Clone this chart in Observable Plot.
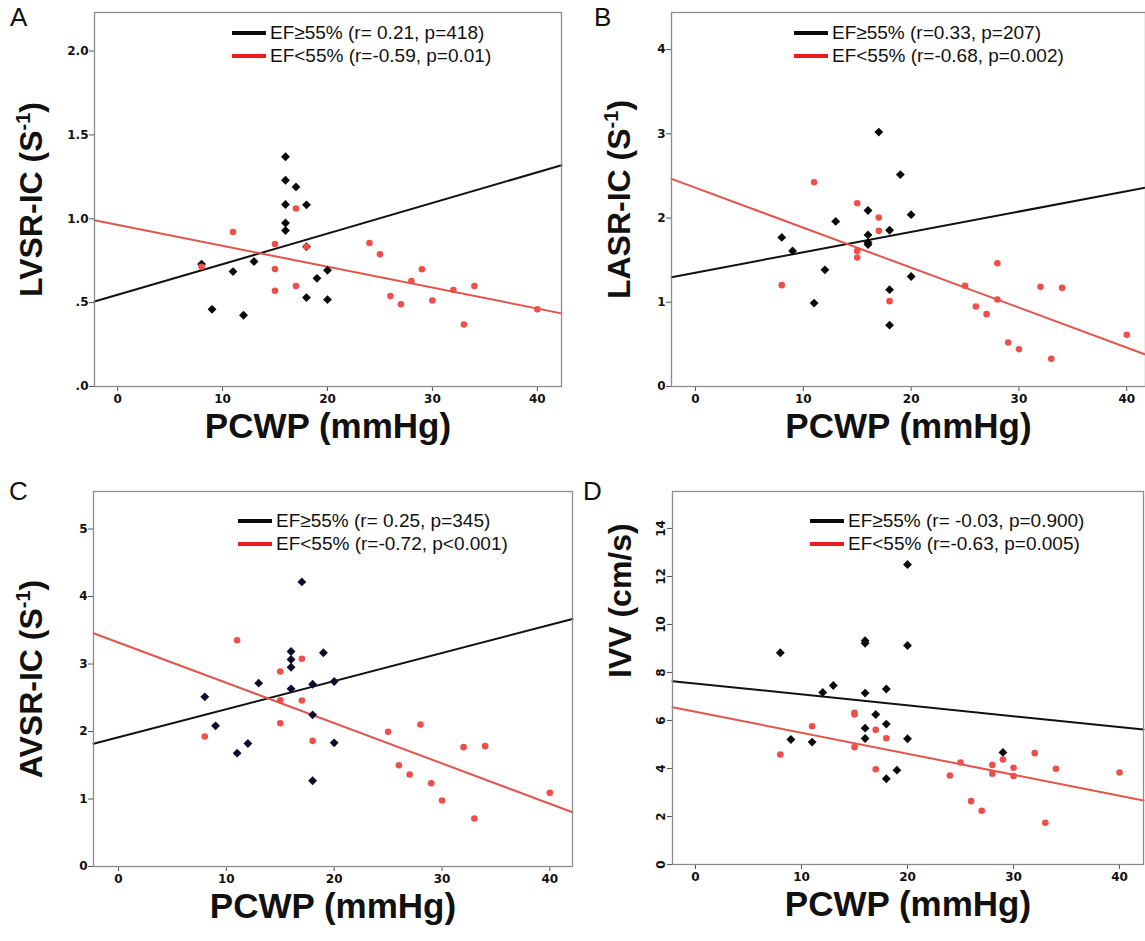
<!DOCTYPE html>
<html><head><meta charset="utf-8">
<script src="https://cdn.jsdelivr.net/npm/d3@7"></script>
<script src="https://cdn.jsdelivr.net/npm/@observablehq/plot@0.6"></script>
<style>
body{margin:0;background:#fff;}
#wrap{position:relative;width:1145px;height:941px;overflow:hidden;background:#fff;font-family:"Liberation Sans",Arial,sans-serif;}
.panel{position:absolute;}
.letter{position:absolute;font-size:26px;line-height:26px;color:#111;}
.leg{position:absolute;display:flex;align-items:center;font-size:19px;line-height:22px;color:#111;white-space:nowrap;}
.sw{width:34px;height:3.5px;margin-right:4px;}
</style></head><body><div id="wrap"></div>
<script>
// ---------- data ----------
const xTicks = [0, 10, 20, 30, 40];

// Panel A: LVSR-IC
const aBlackX = [8, 9, 11, 12, 13, 16, 16, 17, 16, 18, 16, 16, 18, 19, 20, 18, 20];
const aBlackY = [0.73, 0.46, 0.685, 0.425, 0.745, 1.37, 1.23, 1.19, 1.085, 1.083, 0.975, 0.93, 0.834, 0.645, 0.693, 0.53, 0.518];
const aRedX = [8, 11, 15, 17, 18, 15, 17, 15, 24, 25, 26, 27, 28, 29, 30, 32, 33, 34, 40];
const aRedY = [0.714, 0.921, 0.85, 1.061, 0.834, 0.70, 0.599, 0.571, 0.856, 0.788, 0.539, 0.49, 0.629, 0.699, 0.513, 0.575, 0.37, 0.599, 0.46];
const aFitBlack = [0.547, 0.01825];   // intercept, slope
const aFitRed = [0.9636, -0.01247];
const aYTicks = [0, 0.5, 1, 1.5, 2];
const aYLabels = [".0", ".5", "1.0", "1.5", "2.0"];

// Panel B: LASR-IC
const bBlackX = [8, 9, 11, 12, 13, 16, 16, 16, 16, 17, 18, 18, 18, 19, 20, 20];
const bBlackY = [1.77, 1.61, 0.99, 1.385, 1.96, 2.09, 1.80, 1.71, 1.685, 3.02, 1.855, 1.15, 0.728, 2.516, 2.04, 1.306];
const bRedX = [8, 11, 15, 15, 15, 17, 17, 18, 25, 26, 27, 28, 28, 29, 30, 32, 33, 34, 40];
const bRedY = [1.203, 2.425, 2.176, 1.61, 1.53, 2.006, 1.848, 1.013, 1.195, 0.95, 0.859, 1.464, 1.033, 0.522, 0.443, 1.183, 0.329, 1.171, 0.614];
const bFitBlack = [1.352, 0.02415];
const bFitRed = [2.359, -0.04742];
const bYTicks = [0, 1, 2, 3, 4];
const bYLabels = ["0", "1", "2", "3", "4"];

// Panel C: AVSR-IC
const cBlackX = [8, 9, 11, 12, 13, 16, 16, 16, 16, 17, 18, 18, 18, 19, 20, 20];
const cBlackY = [2.514, 2.084, 1.679, 1.822, 2.716, 3.185, 3.067, 2.953, 2.632, 4.217, 2.70, 2.247, 1.27, 3.166, 2.741, 1.832];
const cRedX = [8, 11, 15, 15, 15, 17, 17, 18, 25, 26, 27, 28, 29, 30, 32, 33, 34, 40];
const cRedY = [1.926, 3.353, 2.889, 2.464, 2.123, 3.077, 2.459, 1.862, 1.995, 1.501, 1.363, 2.104, 1.234, 0.978, 1.768, 0.711, 1.783, 1.091];
const cFitBlack = [1.914, 0.04163];
const cFitRed = [3.318, -0.0597];
const cYTicks = [0, 1, 2, 3, 4, 5];
const cYLabels = ["0", "1", "2", "3", "4", "5"];

// Panel D: IVV
const dBlackX = [8, 9, 11, 12, 13, 16, 16, 16, 16, 16, 17, 18, 18, 18, 19, 20, 20, 20, 29];
const dBlackY = [8.82, 5.21, 5.10, 7.17, 7.46, 9.32, 9.22, 7.14, 5.68, 5.25, 6.25, 7.31, 5.85, 3.57, 3.93, 12.5, 9.125, 5.24, 4.67];
const dRedX = [8, 11, 15, 15, 15, 17, 17, 18, 24, 25, 26, 27, 28, 28, 29, 30, 30, 32, 33, 34, 40];
const dRedY = [4.58, 5.76, 6.32, 6.25, 4.89, 5.61, 3.97, 5.26, 3.71, 4.25, 2.64, 2.24, 4.15, 3.78, 4.375, 4.03, 3.69, 4.64, 1.74, 3.99, 3.83];
const dFitBlack = [7.54, -0.04535];
const dFitRed = [6.365, -0.0875];
const dYTicks = [0, 2, 4, 6, 8, 10, 12, 14];
const dYLabels = ["0", "2", "4", "6", "8", "10", "12", "14"];

const xTitle = "PCWP (mmHg)";
const yTitles = ["LVSR-IC (S-1)", "LASR-IC (S-1)", "AVSR-IC (S-1)", "IVV (cm/s)"];
const letters = ["A", "B", "C", "D"];
const legendBlack = ["EF≥55% (r= 0.21, p=418)", "EF≥55% (r=0.33, p=207)", "EF≥55% (r= 0.25, p=345)", "EF≥55% (r= -0.03, p=0.900)"];
const legendRed = ["EF<55% (r=-0.59, p=0.01)", "EF<55% (r=-0.68, p=0.002)", "EF<55% (r=-0.72, p<0.001)", "EF<55% (r=-0.63, p=0.005)"];

// ---------- layout ----------
const layout = [
  {left:0, top:0, width:572, height:460, ml:94, mr:11, mt:12, mb:74, xd:[-2.2, 42.3], yd:[0, 2.23], ytdx:-63, rot:0, dia:"#0a0a0a", leg:[232, 33], let:[10, 4]},
  {left:580, top:0, width:565, height:460, ml:91, mr:0, mt:12, mb:74, xd:[-2.23, 41.74], yd:[0, 4.44], ytdx:-52, rot:0, dia:"#0a0a0a", leg:[794, 33], let:[594, 4]},
  {left:0, top:460, width:580, height:481, ml:93, mr:8, mt:31, mb:75, xd:[-2.32, 42.1], yd:[0, 5.556], ytdx:-62, rot:0, dia:"#0d0d2e", leg:[238, 521], let:[9, 478]},
  {left:580, top:460, width:565, height:481, ml:92, mr:2, mt:31, mb:77, xd:[-2.17, 42.26], yd:[0, 15.54], ytdx:-52, rot:-90, dia:"#0a0a0a", leg:[810, 521], let:[583, 478]}
];

const sets = [
  [aBlackX, aBlackY, aRedX, aRedY, aFitBlack, aFitRed, aYTicks, aYLabels],
  [bBlackX, bBlackY, bRedX, bRedY, bFitBlack, bFitRed, bYTicks, bYLabels],
  [cBlackX, cBlackY, cRedX, cRedY, cFitBlack, cFitRed, cYTicks, cYLabels],
  [dBlackX, dBlackY, dRedX, dRedY, dFitBlack, dFitRed, dYTicks, dYLabels]
];

const wrap = document.getElementById("wrap");
const tickFont = "DejaVu Sans, Verdana, sans-serif";
const titleFont = "Liberation Sans, Arial, sans-serif";

sets.forEach((s, i) => {
  const L = layout[i];
  const [bx, by, rx, ry, fb, fr, yt, yl] = s;
  const black = bx.map((x, k) => ({x, y: by[k]}));
  const red = rx.map((x, k) => ({x, y: ry[k]}));
  const fit = f => L.xd.map(x => ({x, y: f[0] + f[1] * x}));
  const labelMap = new Map(yt.map((t, k) => [t, yl[k]]));

  const plot = Plot.plot({
    width: L.width, height: L.height,
    marginLeft: L.ml, marginRight: L.mr, marginTop: L.mt, marginBottom: L.mb,
    x: {domain: L.xd},
    y: {domain: L.yd},
    style: {background: "transparent", overflow: "visible"},
    marks: [
      Plot.axisX({ticks: xTicks, tickSize: 5, tickPadding: 3, label: null, fontSize: 12, fontWeight: "bold", fontFamily: tickFont, stroke: "#555", fill: "#111"}),
      Plot.axisY({ticks: yt, tickFormat: d => labelMap.get(d), tickSize: 5, tickPadding: L.rot ? 3 : 1, tickRotate: L.rot, label: null, fontSize: 12, fontWeight: "bold", fontFamily: tickFont, stroke: "#555", fill: "#111"}),
      Plot.line(fit(fb), {x: "x", y: "y", stroke: "#111", strokeWidth: 2}),
      Plot.line(fit(fr), {x: "x", y: "y", stroke: "#e2544c", strokeWidth: 2}),
      Plot.dot(black, {x: "x", y: "y", symbol: "diamond2", r: 4, fill: L.dia, stroke: "none"}),
      Plot.dot(red, {x: "x", y: "y", r: 3.3, fill: "#ef4f4a", stroke: "none"}),
      Plot.frame({stroke: "#8c8c8c", strokeWidth: 1.3}),
      Plot.text([yTitles[i]], {frameAnchor: "left", dx: L.ytdx, rotate: -90, fontSize: 32, fontWeight: "bold", fontFamily: titleFont, fill: "#111"}),
      Plot.text([xTitle], {frameAnchor: "bottom", dy: 51.5, fontSize: 35, fontWeight: "bold", fontFamily: titleFont, fill: "#111"})
    ]
  });
  plot.classList.add("panel");
  plot.style.left = L.left + "px";
  plot.style.top = L.top + "px";
  plot.style.position = "absolute";
  wrap.appendChild(plot);

  // superscript for (S-1), re-centred manually
  d3.select(plot).selectAll("text").filter(function() { return this.textContent.endsWith("(S-1)"); }).each(function() {
    const t = d3.select(this);
    const base = this.textContent.slice(0, -3);
    t.text(null);
    t.append("tspan").text(base);
    t.append("tspan").attr("dy", -12).attr("font-size", 20).text("-1");
    t.append("tspan").attr("dy", 12).text(")");
    const len = this.getComputedTextLength();
    t.attr("text-anchor", "start").attr("x", -len / 2);
  });

  // panel letter
  const lt = document.createElement("div");
  lt.className = "letter";
  lt.style.left = L.let[0] + "px";
  lt.style.top = L.let[1] + "px";
  lt.textContent = letters[i];
  wrap.appendChild(lt);

  // legend rows
  [[legendBlack[i], "#0a0a0a", 0], [legendRed[i], "#ee1d1d", 23]].forEach(([txt, col, off]) => {
    const row = document.createElement("div");
    row.className = "leg";
    row.style.left = L.leg[0] + "px";
    row.style.top = (L.leg[1] + off - 11) + "px";
    const sw = document.createElement("div");
    sw.className = "sw";
    sw.style.background = col;
    const sp = document.createElement("span");
    sp.textContent = txt;
    row.appendChild(sw);
    row.appendChild(sp);
    wrap.appendChild(row);
  });
});
</script>
</body></html>
